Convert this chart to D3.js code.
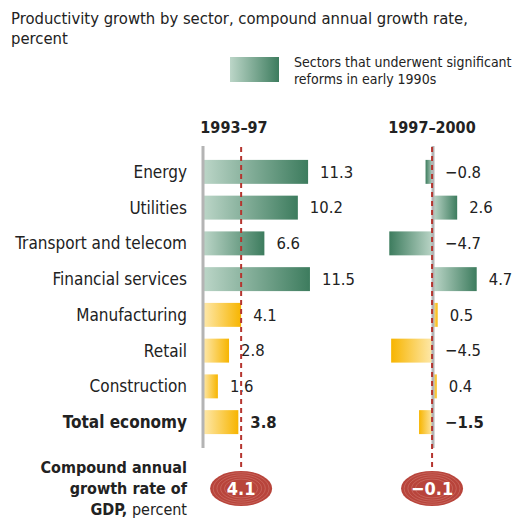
<!DOCTYPE html>
<html>
<head>
<meta charset="utf-8">
<script src="https://cdn.jsdelivr.net/npm/d3@7"></script>
<style>
  body { margin: 0; background: #fff; }
  svg text { font-family: "Liberation Sans Narrow", "DejaVu Sans Condensed", "Arial Narrow", sans-serif; fill: #222; }
</style>
</head>
<body>
<div id="viz"></div>
<script>
const sectors = ["Energy", "Utilities", "Transport and telecom", "Financial services",
  "Manufacturing", "Retail", "Construction", "Total economy"];
const reformed = [true, true, true, true, false, false, false, false];
const growth9397 = [11.3, 10.2, 6.6, 11.5, 4.1, 2.8, 1.6, 3.8];
const growth9700 = [-0.8, 2.6, -4.7, 4.7, 0.5, -4.5, 0.4, -1.5];
const periods = ["1993–97", "1997–2000"];
const gdpGrowth = [4.1, -0.1];

const width = 530, height = 519;
const k = 9.3; // px per percentage point

const svg = d3.select("#viz")
  .append("svg")
    .attr("width", width)
    .attr("height", height);

const defs = svg.append("defs");
function grad(id, light, dark, flip) {
  const g = defs.append("linearGradient").attr("id", id)
    .attr("x1", flip ? 1 : 0).attr("x2", flip ? 0 : 1).attr("y1", 0).attr("y2", 0);
  g.append("stop").attr("offset", 0).attr("stop-color", light);
  g.append("stop").attr("offset", 1).attr("stop-color", dark);
}
grad("gPos", "#bcd6c8", "#3d7c5e", false);
grad("gNeg", "#bcd6c8", "#3d7c5e", true);
grad("yPos", "#fee9ad", "#f7b500", false);
grad("yNeg", "#fee9ad", "#f7b500", true);

// title
svg.append("text").attr("x", 11).attr("y", 24).style("font-size", "16.5px")
  .text("Productivity growth by sector, compound annual growth rate,");
svg.append("text").attr("x", 11).attr("y", 44).style("font-size", "16.5px")
  .text("percent");

// legend
svg.append("rect").attr("x", 230).attr("y", 57).attr("width", 49).attr("height", 25)
  .attr("fill", "url(#gPos)");
svg.append("text").attr("x", 294).attr("y", 67).style("font-size", "14px")
  .text("Sectors that underwent significant");
svg.append("text").attr("x", 294).attr("y", 84).style("font-size", "14px")
  .text("reforms in early 1990s");

const y = d3.scaleBand()
  .domain(sectors)
  .range([154, 440])
  .paddingInner(0.33)
  .paddingOuter(0.165);

const x1 = d3.scaleLinear().domain([0, 11.5]).range([203, 203 + 11.5 * k]);
const x2 = d3.scaleLinear().domain([-4.7, 4.7]).range([433 - 4.7 * k, 433 + 4.7 * k]);

// category labels
svg.append("g").selectAll("text")
  .data(sectors)
  .enter()
  .append("text")
    .attr("x", 187)
    .attr("y", d => y(d) + y.bandwidth() / 2)
    .attr("dy", "0.35em")
    .attr("text-anchor", "end")
    .style("font-size", "17px")
    .style("font-weight", (d, i) => i === sectors.length - 1 ? "bold" : "normal")
    .text(d => d);

function panel(values, x, header, gdp, headerX) {
  const zero = x(0);
  svg.append("text")
    .attr("x", headerX)
    .attr("y", 133)
    .attr("text-anchor", "middle")
    .style("font-size", "16px")
    .style("font-weight", "bold")
    .text(header);

  svg.append("g").selectAll("rect")
    .data(values)
    .enter()
    .append("rect")
      .attr("x", d => x(Math.min(0, d)))
      .attr("y", (d, i) => y(sectors[i]))
      .attr("width", d => Math.abs(x(d) - zero))
      .attr("height", y.bandwidth())
      .attr("fill", (d, i) => "url(#" + (reformed[i] ? "g" : "y") + (d < 0 ? "Neg" : "Pos") + ")");

  // axis line
  svg.append("line")
    .attr("x1", zero).attr("x2", zero)
    .attr("y1", 146).attr("y2", 448)
    .attr("stroke", "#b4b4b4").attr("stroke-width", 3);

  svg.append("g").selectAll("text")
    .data(values)
    .enter()
    .append("text")
      .attr("x", d => x(Math.max(0, d)) + 12)
      .attr("y", (d, i) => y(sectors[i]) + y.bandwidth() / 2)
      .attr("dy", "0.35em")
      .style("font-size", "16.5px")
      .style("font-weight", (d, i) => i === values.length - 1 ? "bold" : "normal")
      .text(d => d3.format(".1f")(d).replace("-", "–"));

  // GDP reference line
  const gx = x(gdp);
  svg.append("line")
    .attr("x1", gx).attr("x2", gx)
    .attr("y1", 147).attr("y2", 471)
    .attr("stroke", "#b5352f").attr("stroke-width", 2)
    .attr("stroke-dasharray", "5,4");

  const oval = svg.append("g").attr("transform", `translate(${gx},488.5)`);
  oval.append("ellipse").attr("rx", 31).attr("ry", 17.5).attr("fill", "#b8443b");
  [0.9, 0.78, 0.66, 0.54].forEach(s => {
    oval.append("ellipse").attr("rx", 31 * s).attr("ry", 17.5 * s)
      .attr("fill", "none").attr("stroke", "#d98b82").attr("stroke-width", 0.6)
      .attr("opacity", 0.7);
  });
  oval.append("text")
    .attr("y", 0).attr("dy", "0.36em")
    .attr("text-anchor", "middle")
    .style("font-size", "18px").style("font-weight", "bold")
    .style("fill", "#fff")
    .text(d3.format(".1f")(gdp).replace("-", "–"));
}

panel(growth9397, x1, periods[0], gdpGrowth[0], 234);
panel(growth9700, x2, periods[1], gdpGrowth[1], 432);

// bottom label
const foot = svg.append("g").attr("text-anchor", "end").style("font-size", "16px");
foot.append("text").attr("x", 187).attr("y", 473).style("font-weight", "bold").text("Compound annual");
foot.append("text").attr("x", 187).attr("y", 494).style("font-weight", "bold").text("growth rate of");
const t3 = foot.append("text").attr("x", 187).attr("y", 515);
t3.append("tspan").style("font-weight", "bold").text("GDP,");
t3.append("tspan").text(" percent");
</script>
</body>
</html>
